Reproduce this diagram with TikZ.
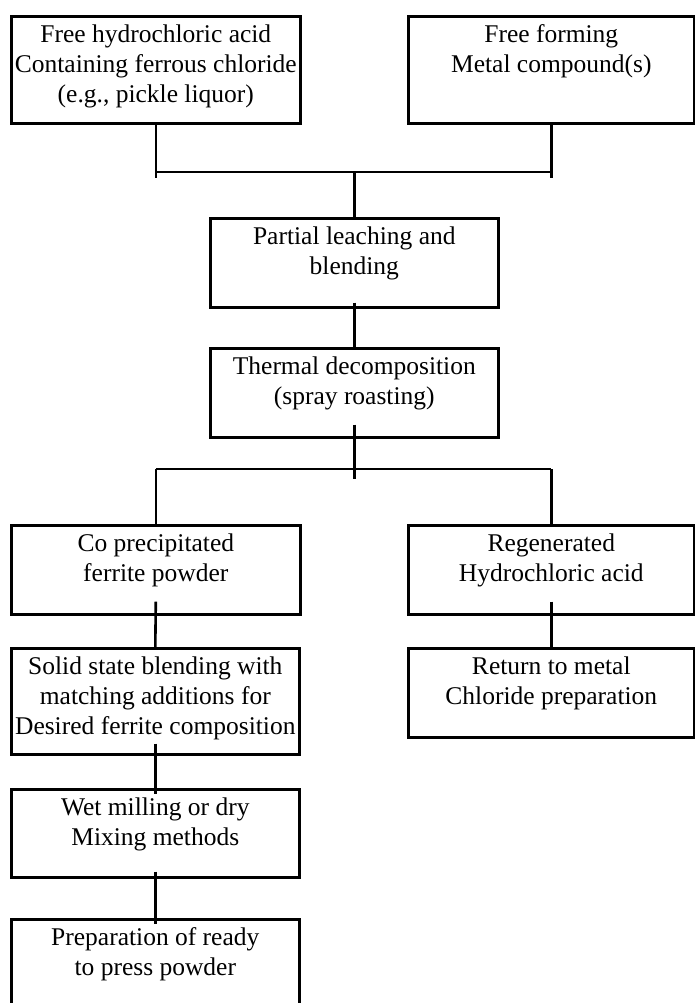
\documentclass[tikz,border=0pt]{standalone}
\usepackage{fontspec}
\setmainfont{Liberation Serif}
% box text: height, width, lines
\newcommand{\boxtxt}[3]{\parbox[t][#1][t]{#2}{\centering\rule{0pt}{26pt}#3}}
\tikzset{stage/.style={draw,line width=2.6pt,inner sep=0pt,anchor=north west}}
\begin{document}
\begin{tikzpicture}[x=1pt,y=1pt,line width=2.6pt,font=\fontsize{25.5}{30}\selectfont]
    \useasboundingbox (0,0) rectangle (694,-1003);
    % starting materials
    \node[stage] (acid) at (10,-15) {\boxtxt{107pt}{289pt}{Free hydrochloric acid\\Containing ferrous chloride\\(e.g., pickle liquor)}};
    \node[stage] (metal) at (407,-15) {\boxtxt{107pt}{286pt}{Free forming\\Metal compound(s)}};
    % main line
    \node[stage] (leach) at (209,-217) {\boxtxt{89pt}{288pt}{Partial leaching and\\blending}};
    \node[stage] (thermal) at (209,-347) {\boxtxt{89pt}{288pt}{Thermal decomposition\\(spray roasting)}};
    \node[stage] (powder) at (10,-524) {\boxtxt{89pt}{289pt}{Co precipitated\\ferrite powder}};
    \node[stage] (regen) at (407,-524) {\boxtxt{89pt}{286pt}{Regenerated\\Hydrochloric acid}};
    \node[stage] (blend) at (10,-647) {\boxtxt{106pt}{288pt}{Solid state blending with\\matching additions for\\Desired ferrite composition}};
    \node[stage] (ret) at (407,-647) {\boxtxt{89pt}{286pt}{Return to metal\\Chloride preparation}};
    \node[stage] (mill) at (10,-788) {\boxtxt{88pt}{288pt}{Wet milling or dry\\Mixing methods}};
    \node[stage] (press) at (10,-918) {\boxtxt{108pt}{288pt}{Preparation of ready\\to press powder}};
    % joining and splitting
    \coordinate (merge) at (leach.north |- 0,-172);
    \coordinate (split) at (thermal.south |- 0,-469);
    \draw (acid.south) -- ++(0,-53) (metal.south) -- ++(0,-53);
    \draw (acid.south |- merge) -- (metal.south |- merge);
    \draw (merge) -- (leach.north);
    \draw ([yshift=6pt]leach.south) -- (thermal.north);
    \draw ([yshift=14pt]thermal.south) -- ++(0,-54);
    \draw (powder.north |- split) -- (regen.north |- split);
    \foreach \n in {powder,regen}
        \draw (\n.north |- split) -- (\n.north);
    \foreach \a/\b in {powder/blend,regen/ret}
        \draw ([yshift=14pt]\a.south) -- (\b.north);
    \draw ([yshift=12pt]blend.south) -- ([yshift=-6pt]mill.north);
    \draw ([yshift=7pt]mill.south) -- ([yshift=-6pt]press.north);
\end{tikzpicture}
\end{document}
